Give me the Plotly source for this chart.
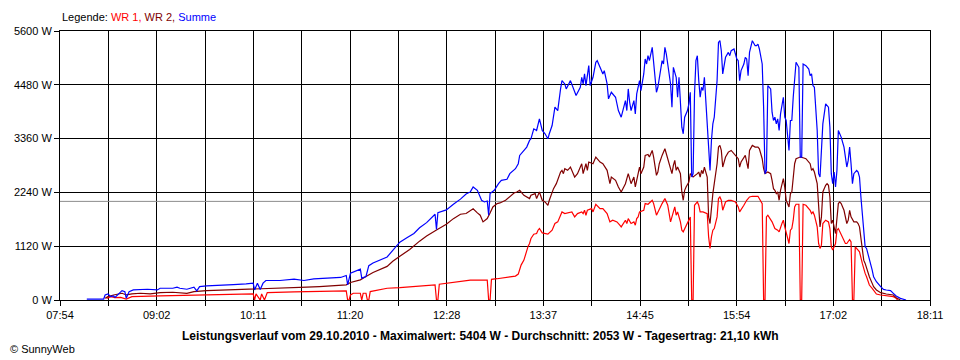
import numpy as np
import plotly.graph_objects as go

# ---------------- data ----------------
x_tick_labels = ["07:54", "09:02", "10:11", "11:20", "12:28", "13:37",
                 "14:45", "15:54", "17:02", "18:11"]
y_tick_values = [0, 1120, 2240, 3360, 4480, 5600]
y_tick_labels = ["0 W", "1120 W", "2240 W", "3360 W", "4480 W", "5600 W"]
average_w = 2053

wr1 = [  # WR 1 (red): (time, W)
    ("08:27", 35), ("08:30", 70), ("08:33", 49), ("08:37", 56), ("08:41", 21), ("08:44", 56),
    ("08:45", 70), ("09:05", 84), ("09:33", 98), ("09:38", 105), ("10:11", 126), ("10:12", 0),
    ("10:13", 126), ("10:16", 0), ("10:17", 126), ("10:19", 0), ("10:21", 154), ("10:40", 168),
    ("11:17", 189), ("11:18", 0), ("11:19", 0), ("11:20", 105), ("11:22", 140), ("11:27", 140),
    ("11:28", 0), ("11:29", 140), ("11:31", 140), ("11:32", 0), ("11:33", 0), ("11:34", 175),
    ("11:46", 245), ("11:55", 259), ("12:05", 280), ("12:14", 294), ("12:20", 315), ("12:21", 0),
    ("12:22", 0), ("12:23", 329), ("12:28", 350), ("12:38", 385), ("12:45", 415), ("12:57", 415),
    ("12:58", 0), ("12:59", 0), ("13:00", 429), ("13:04", 443), ("13:08", 457), ("13:13", 471),
    ("13:17", 498), ("13:19", 540), ("13:20", 623), ("13:21", 727), ("13:23", 830), ("13:24", 934),
    ("13:25", 1038), ("13:26", 1121), ("13:27", 1176), ("13:28", 1280), ("13:30", 1370),
    ("13:32", 1384), ("13:33", 1453), ("13:34", 1488), ("13:36", 1398), ("13:38", 1384),
    ("13:40", 1370), ("13:43", 1453), ("13:45", 1592), ("13:47", 1626), ("13:49", 1765),
    ("13:50", 1834), ("13:52", 1799), ("13:54", 1813), ("13:57", 1834), ("13:59", 1730),
    ("14:01", 1799), ("14:04", 1834), ("14:05", 1799), ("14:06", 1868), ("14:07", 1765),
    ("14:08", 1868), ("14:11", 1903), ("14:12", 1834), ("14:14", 1993), ("14:17", 1903),
    ("14:19", 1903), ("14:22", 1799), ("14:24", 1626), ("14:26", 1661), ("14:29", 1626),
    ("14:31", 1557), ("14:32", 1522), ("14:35", 1661), ("14:36", 1592), ("14:37", 1695),
    ("14:39", 1592), ("14:41", 1626), ("14:42", 1557), ("14:43", 1695), ("14:44", 1730),
    ("14:45", 1834), ("14:48", 1868), ("14:49", 2007), ("14:51", 1993), ("14:54", 2076),
    ("14:55", 2007), ("14:57", 1765), ("14:58", 1834), ("15:01", 2007), ("15:03", 2111),
    ("15:05", 1972), ("15:07", 1626), ("15:08", 1730), ("15:10", 1938), ("15:11", 1765),
    ("15:12", 1834), ("15:14", 1626), ("15:15", 1453), ("15:16", 1419), ("15:17", 1488),
    ("15:20", 1661), ("15:21", 1730), ("15:22", 0), ("15:23", 0), ("15:24", 1972),
    ("15:26", 2041), ("15:27", 1972), ("15:28", 1834), ("15:30", 1834), ("15:33", 1799),
    ("15:34", 1315), ("15:35", 1073), ("15:36", 1315), ("15:37", 1453), ("15:38", 1488),
    ("15:40", 1730), ("15:41", 2111), ("15:42", 2145), ("15:43", 2076), ("15:44", 1868),
    ("15:46", 2041), ("15:48", 2076), ("15:50", 2076), ("15:53", 2041), ("15:55", 1938),
    ("15:56", 1834), ("15:59", 1972), ("16:01", 2076), ("16:03", 2145), ("16:05", 2159),
    ("16:09", 2159), ("16:10", 2111), ("16:12", 2007), ("16:13", 0), ("16:14", 0),
    ("16:15", 1730), ("16:16", 1765), ("16:19", 1626), ("16:21", 1488), ("16:23", 1453),
    ("16:24", 1419), ("16:26", 1592), ("16:27", 1661), ("16:28", 1522), ("16:29", 1384),
    ("16:31", 1176), ("16:32", 1453), ("16:33", 1488), ("16:34", 1661), ("16:35", 1938),
    ("16:36", 1993), ("16:38", 1993), ("16:39", 0), ("16:40", 0), ("16:41", 1993),
    ("16:43", 1972), ("16:46", 1868), ("16:47", 1799), ("16:48", 1834), ("16:49", 1765),
    ("16:51", 1522), ("16:52", 1176), ("16:53", 1073), ("16:54", 1142), ("16:55", 1592),
    ("16:57", 1661), ("16:59", 1626), ("17:00", 1488), ("17:01", 1107), ("17:02", 1038),
    ("17:04", 1176), ("17:05", 1453), ("17:06", 1488), ("17:08", 1349), ("17:11", 1176),
    ("17:12", 1176), ("17:14", 1259), ("17:15", 1211), ("17:16", 0), ("17:17", 0),
    ("17:18", 1107), ("17:20", 1038), ("17:21", 1003), ("17:23", 761), ("17:24", 623),
    ("17:25", 554), ("17:26", 484), ("17:27", 415), ("17:28", 311), ("17:30", 242),
    ("17:31", 208), ("17:33", 125), ("17:36", 104), ("17:40", 90), ("17:45", 69),
    ("17:47", 35), ("17:48", 0),
]

wr2 = [  # WR 2 (dark red): (time, W)
    ("08:26", 35), ("08:28", 70), ("08:32", 105), ("08:38", 140), ("08:41", 105), ("08:45", 126),
    ("08:51", 140), ("08:58", 126), ("09:05", 154), ("09:14", 161), ("09:24", 140), ("09:29", 175),
    ("09:38", 196), ("09:52", 210), ("10:11", 224), ("10:21", 238), ("10:40", 245), ("10:49", 266),
    ("10:58", 280), ("11:08", 294), ("11:17", 315), ("11:20", 364), ("11:27", 420), ("11:31", 490),
    ("11:36", 574), ("11:46", 700), ("11:50", 805), ("11:55", 910), ("12:02", 1050),
    ("12:09", 1225), ("12:14", 1330), ("12:21", 1456), ("12:28", 1575), ("12:33", 1694),
    ("12:38", 1785), ("12:42", 1800), ("12:45", 1868), ("12:47", 1900), ("12:50", 1813),
    ("12:52", 1765), ("12:54", 1626), ("12:57", 1695), ("12:59", 1813), ("13:01", 1938),
    ("13:04", 2007), ("13:06", 2021), ("13:10", 2076), ("13:13", 2145), ("13:16", 2228),
    ("13:18", 2249), ("13:20", 2284), ("13:23", 2180), ("13:25", 2145), ("13:27", 2111),
    ("13:28", 2180), ("13:31", 2214), ("13:32", 2111), ("13:34", 2249), ("13:36", 2076),
    ("13:38", 2041), ("13:40", 1972), ("13:41", 2076), ("13:44", 2318), ("13:46", 2422),
    ("13:49", 2664), ("13:50", 2699), ("13:51", 2630), ("13:52", 2733), ("13:54", 2699),
    ("13:56", 2768), ("13:58", 2630), ("13:59", 2560), ("14:01", 2630), ("14:04", 2837),
    ("14:05", 2630), ("14:07", 2837), ("14:08", 2699), ("14:09", 2872), ("14:12", 2837),
    ("14:14", 2976), ("14:17", 2872), ("14:19", 2837), ("14:22", 2699), ("14:24", 2422),
    ("14:25", 2560), ("14:28", 2491), ("14:30", 2353), ("14:32", 2249), ("14:35", 2422),
    ("14:37", 2630), ("14:39", 2422), ("14:41", 2560), ("14:42", 2353), ("14:44", 2630),
    ("14:45", 2768), ("14:46", 2630), ("14:48", 2768), ("14:49", 3010), ("14:51", 3031),
    ("14:52", 2976), ("14:54", 3114), ("14:55", 2976), ("14:56", 2768), ("14:57", 2595),
    ("14:58", 2664), ("14:59", 2837), ("15:01", 3010), ("15:02", 3079), ("15:03", 3149),
    ("15:04", 3045), ("15:05", 2941), ("15:07", 2699), ("15:08", 2630), ("15:09", 2803),
    ("15:10", 2906), ("15:11", 2699), ("15:12", 2768), ("15:14", 2630), ("15:15", 2249),
    ("15:16", 2076), ("15:17", 2284), ("15:18", 2353), ("15:20", 2457), ("15:21", 2630),
    ("15:23", 2560), ("15:26", 2630), ("15:27", 2664), ("15:28", 2560), ("15:29", 2699),
    ("15:30", 2630), ("15:31", 2768), ("15:33", 2560), ("15:34", 1730), ("15:35", 1592),
    ("15:36", 2007), ("15:37", 2214), ("15:38", 2422), ("15:40", 2837), ("15:41", 3183),
    ("15:42", 3218), ("15:43", 3114), ("15:44", 2768), ("15:46", 2976), ("15:48", 3079),
    ("15:50", 3114), ("15:53", 3010), ("15:55", 2941), ("15:56", 2768), ("15:57", 2872),
    ("16:00", 3010), ("16:02", 2733), ("16:03", 3114), ("16:05", 3218), ("16:07", 3183),
    ("16:09", 3183), ("16:10", 3149), ("16:12", 2941), ("16:13", 2733), ("16:14", 2630),
    ("16:16", 2664), ("16:18", 2630), ("16:19", 2491), ("16:20", 2318), ("16:21", 2284),
    ("16:22", 2214), ("16:23", 2249), ("16:24", 2076), ("16:25", 2284), ("16:27", 2526),
    ("16:28", 2350), ("16:29", 2076), ("16:31", 1938), ("16:32", 2214), ("16:33", 2249),
    ("16:34", 2630), ("16:35", 2837), ("16:36", 2941), ("16:39", 2976), ("16:41", 2962),
    ("16:43", 2941), ("16:46", 2837), ("16:47", 2699), ("16:48", 2733), ("16:49", 2664),
    ("16:51", 2422), ("16:52", 1938), ("16:53", 1522), ("16:54", 1730), ("16:55", 2249),
    ("16:57", 2387), ("16:58", 2422), ("16:59", 2387), ("17:00", 2145), ("17:01", 1592),
    ("17:02", 1661), ("17:04", 1384), ("17:05", 1661), ("17:06", 2007), ("17:07", 2041),
    ("17:08", 2007), ("17:10", 1868), ("17:11", 1730), ("17:12", 1592), ("17:13", 1661),
    ("17:14", 1868), ("17:15", 1730), ("17:17", 1626), ("17:19", 1626), ("17:20", 1592),
    ("17:21", 1522), ("17:22", 1315), ("17:23", 1038), ("17:24", 830), ("17:25", 761),
    ("17:26", 657), ("17:27", 554), ("17:28", 484), ("17:30", 346), ("17:31", 277),
    ("17:33", 208), ("17:36", 152), ("17:40", 125), ("17:45", 104), ("17:47", 48), ("17:50", 0),
]

summe = [  # Summe (blue): (time, W)
    ("08:13", 20), ("08:25", 20), ("08:26", 105), ("08:28", 126), ("08:30", 70), ("08:32", 84),
    ("08:33", 56), ("08:35", 105), ("08:38", 196), ("08:40", 175), ("08:41", 35), ("08:43", 175),
    ("08:46", 210), ("08:56", 224), ("09:03", 210), ("09:05", 245), ("09:14", 245), ("09:17", 266),
    ("09:19", 245), ("09:24", 224), ("09:29", 266), ("09:31", 189), ("09:33", 280), ("09:38", 294),
    ("09:48", 315), ("09:57", 322), ("10:06", 336), ("10:11", 350), ("10:12", 210), ("10:14", 350),
    ("10:16", 220), ("10:18", 350), ("10:20", 406), ("10:30", 406), ("10:40", 434), ("10:47", 406),
    ("10:54", 441), ("11:03", 448), ("11:13", 469), ("11:17", 511), ("11:18", 315), ("11:20", 560),
    ("11:27", 644), ("11:28", 455), ("11:31", 490), ("11:33", 714), ("11:36", 770), ("11:46", 896),
    ("11:50", 1036), ("11:55", 1204), ("12:00", 1295), ("12:05", 1386), ("12:09", 1505),
    ("12:14", 1610), ("12:20", 1785), ("12:21", 1470), ("12:22", 1820), ("12:28", 1876),
    ("12:33", 1995), ("12:38", 2100), ("12:42", 2205), ("12:45", 2250), ("12:47", 2353),
    ("12:50", 2284), ("12:53", 2076), ("12:55", 2041), ("12:57", 2060), ("12:58", 1765),
    ("12:59", 2214), ("13:02", 2284), ("13:05", 2422), ("13:07", 2491), ("13:11", 2512),
    ("13:13", 2630), ("13:17", 2733), ("13:19", 2837), ("13:20", 3010), ("13:23", 3114),
    ("13:25", 3183), ("13:27", 3322), ("13:28", 3356), ("13:30", 3564), ("13:32", 3529),
    ("13:34", 3771), ("13:36", 3529), ("13:38", 3460), ("13:40", 3356), ("13:41", 3460),
    ("13:43", 3633), ("13:45", 4014), ("13:47", 3944), ("13:49", 4394), ("13:50", 4567),
    ("13:52", 4498), ("13:53", 4394), ("13:56", 4567), ("13:57", 4498), ("13:59", 4325),
    ("14:00", 4256), ("14:03", 4429), ("14:04", 4636), ("14:05", 4498), ("14:06", 4706),
    ("14:07", 4463), ("14:09", 4879), ("14:10", 4463), ("14:12", 4636), ("14:14", 4948),
    ("14:15", 4982), ("14:17", 4844), ("14:19", 4706), ("14:20", 4775), ("14:22", 4498),
    ("14:23", 4187), ("14:25", 4325), ("14:28", 4221), ("14:30", 3944), ("14:32", 3806),
    ("14:35", 4152), ("14:36", 3944), ("14:37", 4394), ("14:38", 4117), ("14:39", 3944),
    ("14:41", 4152), ("14:42", 3875), ("14:43", 4290), ("14:44", 4429), ("14:45", 4567),
    ("14:46", 4360), ("14:48", 4706), ("14:49", 5017), ("14:50", 4913), ("14:51", 5086),
    ("14:52", 4982), ("14:54", 5259), ("14:55", 4913), ("14:56", 4706), ("14:57", 4325),
    ("14:58", 4429), ("14:59", 4636), ("15:01", 4982), ("15:02", 4913), ("15:03", 5259),
    ("15:04", 5121), ("15:05", 4913), ("15:07", 4498), ("15:08", 4014), ("15:09", 4844),
    ("15:11", 4636), ("15:12", 4221), ("15:13", 4636), ("15:14", 4152), ("15:15", 3598),
    ("15:16", 3460), ("15:17", 3806), ("15:19", 3944), ("15:20", 4083), ("15:21", 4325),
    ("15:22", 2560), ("15:23", 2630), ("15:24", 4290), ("15:25", 4982), ("15:26", 5086),
    ("15:27", 4567), ("15:28", 4221), ("15:29", 4429), ("15:30", 4360), ("15:31", 4636),
    ("15:32", 4152), ("15:33", 3667), ("15:34", 3045), ("15:35", 2699), ("15:36", 3322),
    ("15:37", 3667), ("15:38", 3806), ("15:40", 4567), ("15:41", 5363), ("15:42", 5398),
    ("15:43", 5190), ("15:44", 4706), ("15:46", 5052), ("15:47", 5121), ("15:48", 5155),
    ("15:49", 5086), ("15:50", 5190), ("15:52", 5225), ("15:53", 5086), ("15:54", 5017),
    ("15:55", 4982), ("15:56", 4567), ("15:57", 4775), ("15:59", 4913), ("16:00", 5052),
    ("16:01", 5017), ("16:02", 4671), ("16:03", 5155), ("16:05", 5398), ("16:06", 5328),
    ("16:07", 5294), ("16:08", 5294), ("16:09", 5328), ("16:10", 5225), ("16:12", 4913),
    ("16:13", 4014), ("16:14", 2630), ("16:15", 2699), ("16:16", 4463), ("16:18", 4394),
    ("16:19", 3910), ("16:20", 3737), ("16:21", 3806), ("16:22", 3667), ("16:23", 3771),
    ("16:24", 3529), ("16:25", 3875), ("16:27", 4221), ("16:28", 3806), ("16:29", 3737),
    ("16:31", 3114), ("16:32", 3737), ("16:33", 3737), ("16:34", 4221), ("16:35", 4636),
    ("16:36", 4948), ("16:38", 4844), ("16:39", 2976), ("16:40", 2976), ("16:41", 4913),
    ("16:43", 4879), ("16:45", 4809), ("16:46", 4671), ("16:47", 4706), ("16:48", 4463),
    ("16:49", 4429), ("16:51", 3529), ("16:52", 2630), ("16:53", 2560), ("16:54", 3114),
    ("16:55", 3667), ("16:57", 4083), ("16:58", 4048), ("16:59", 4014), ("17:00", 3598),
    ("17:01", 2630), ("17:02", 2422), ("17:03", 2664), ("17:04", 2353), ("17:05", 2699),
    ("17:06", 3529), ("17:07", 3460), ("17:08", 3391), ("17:10", 3183), ("17:11", 2976),
    ("17:12", 2768), ("17:13", 2906), ("17:14", 3183), ("17:15", 2837), ("17:16", 2422),
    ("17:17", 2630), ("17:19", 2699), ("17:20", 2664), ("17:21", 2560), ("17:22", 2145),
    ("17:23", 1730), ("17:24", 1384), ("17:25", 1107), ("17:26", 1073), ("17:27", 969),
    ("17:28", 830), ("17:30", 623), ("17:31", 484), ("17:33", 381), ("17:36", 277),
    ("17:38", 221), ("17:40", 208), ("17:43", 194), ("17:45", 138), ("17:47", 83),
    ("17:50", 35), ("17:52", 14), ("17:54", 0),
]

title_text = ("Leistungsverlauf vom 29.10.2010 - Maximalwert: 5404 W - "
              "Durchschnitt: 2053 W - Tagesertrag: 21,10 kWh")


# ---------------- helpers ----------------
def to_min(s):
    h, m = s.split(":")
    return int(h) * 60 + int(m)


def split(series):
    return [to_min(t) for t, _ in series], [w for _, w in series]


FONT = "Liberation Sans, Arial, sans-serif"
t_start = to_min(x_tick_labels[0])
t_end = to_min(x_tick_labels[-1])
grid_vals = list(np.linspace(t_start, t_end, 2 * (len(x_tick_labels) - 1) + 1))
grid_text = []
for i in range(len(grid_vals)):
    grid_text.append(x_tick_labels[i // 2] if i % 2 == 0 else "")

fig = go.Figure()

# average line
fig.add_trace(go.Scatter(x=[t_start, t_end], y=[average_w, average_w], mode="lines",
                         line=dict(color="#8c8c8c", width=1), hoverinfo="skip"))

for series, color in [(wr1, "#ff0000"), (wr2, "#800000"), (summe, "#0000ff")]:
    xs, ys = split(series)
    fig.add_trace(go.Scatter(x=xs, y=ys, mode="lines",
                             line=dict(color=color, width=1.2)))

# the page body has an 8px margin, so the figure is 8px smaller and shifted
fig.update_layout(
    width=952, height=352,
    margin=dict(l=52, r=30, t=23, b=60, pad=0, autoexpand=False),
    paper_bgcolor="white", plot_bgcolor="white",
    showlegend=False,
    font=dict(family=FONT, size=11, color="black"),
)
common = dict(
    showgrid=True, gridcolor="black", gridwidth=1,
    ticks="outside", ticklen=5, tickcolor="black", tickwidth=1,
    showline=True, linecolor="black", linewidth=1, mirror=True, zeroline=False,
    automargin=False, tickfont=dict(family=FONT, size=11, color="black"),
)
fig.update_xaxes(range=[t_start, t_end], tickvals=grid_vals, ticktext=grid_text, **common)
fig.update_yaxes(range=[y_tick_values[0], y_tick_values[-1]], tickvals=y_tick_values,
                 ticktext=y_tick_labels, **common)

legend_html = ('Legende: <span style="color:#ff0000">WR 1, </span>'
               '<span style="color:#800000">WR 2, </span>'
               '<span style="color:#0000ff">Summe</span>')
fig.add_annotation(text=legend_html, xref="paper", yref="paper", x=0, y=1.053,
                   xanchor="left", yanchor="middle", showarrow=False,
                   font=dict(family=FONT, size=11, color="black"))
fig.add_annotation(text="<b>" + title_text + "</b>", xref="paper", yref="paper",
                   x=0.4828, y=-0.134, xanchor="center", yanchor="middle", showarrow=False,
                   font=dict(family=FONT, size=12, color="black"))
fig.add_annotation(text="© SunnyWeb", xref="paper", yref="paper", x=-0.0595, y=-0.182,
                   xanchor="left", yanchor="middle", showarrow=False,
                   font=dict(family=FONT, size=11, color="black"))

fig.write_html("out.html")
